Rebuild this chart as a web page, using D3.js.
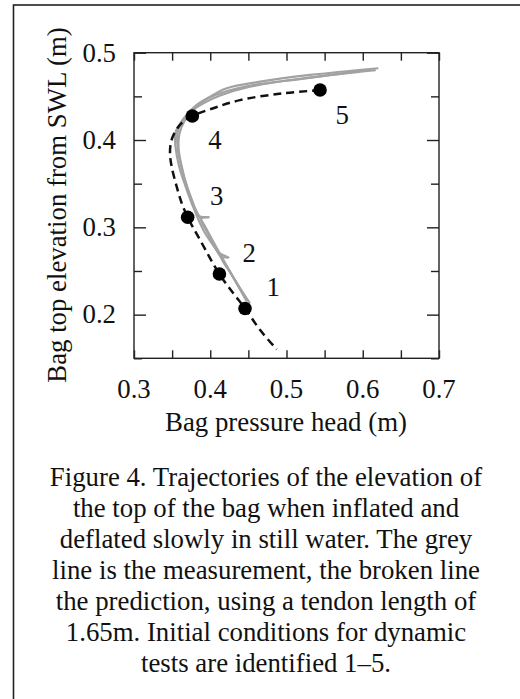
<!DOCTYPE html>
<html>
<head>
<meta charset="utf-8">
<script src="https://cdn.jsdelivr.net/npm/d3@7"></script>
<style>
  body { margin: 0; background: #fff; }
  svg { display: block; }
  text { font-family: "Liberation Serif", "Times New Roman", serif; fill: #111; }
</style>
</head>
<body>
<svg id="chart" width="520" height="699"></svg>
<script>
// tick values
const xTicks = [0.3, 0.4, 0.5, 0.6, 0.7]
const xMinor = [0.35, 0.45, 0.55, 0.65]
const yTicks = [0.2, 0.3, 0.4, 0.5]
const yMinor = [0.15, 0.25, 0.35, 0.45]

// prediction (broken line)  [pressure head, elevation]
const predicted = [
  [0.544, 0.457], [0.495, 0.4535], [0.439, 0.4457], [0.404, 0.4364], [0.3765, 0.4275],
  [0.3603, 0.4174], [0.3494, 0.4004], [0.3472, 0.3848], [0.3494, 0.3695], [0.356, 0.3466],
  [0.3626, 0.3276], [0.3704, 0.3115], [0.3866, 0.2856], [0.4119, 0.2466], [0.4302, 0.2245],
  [0.4456, 0.2073], [0.4652, 0.1826], [0.4871, 0.1603]
]

// measured traces (grey)
const measuredA = [
  [0.4521, 0.213], [0.439, 0.2305], [0.4216, 0.2549], [0.4062, 0.2763], [0.3909, 0.297],
  [0.3757, 0.3276], [0.3647, 0.3542], [0.3581, 0.3737], [0.3538, 0.400], [0.3551, 0.4104],
  [0.3581, 0.4153], [0.3669, 0.4267], [0.3822, 0.4402], [0.3997, 0.4497], [0.4216, 0.4593],
  [0.4652, 0.4668], [0.5308, 0.4745], [0.6204, 0.4822]
]
const measuredB = [
  [0.617, 0.480], [0.53, 0.4715], [0.452, 0.461], [0.413, 0.451], [0.391, 0.442],
  [0.374, 0.432], [0.362, 0.420], [0.357, 0.408], [0.357, 0.394], [0.360, 0.377],
  [0.366, 0.356], [0.376, 0.331], [0.385, 0.313], [0.398, 0.3115], [0.388, 0.310],
  [0.397, 0.293], [0.411, 0.271], [0.424, 0.2655], [0.415, 0.265], [0.428, 0.246],
  [0.447, 0.218]
]
const measuredC = [
  [0.60, 0.4795], [0.52, 0.470], [0.46, 0.4635], [0.42, 0.4555], [0.395, 0.4465],
  [0.377, 0.4345], [0.366, 0.4215], [0.3595, 0.407], [0.3585, 0.390], [0.362, 0.372],
  [0.370, 0.345], [0.380, 0.322], [0.395, 0.298], [0.410, 0.274], [0.430, 0.243],
  [0.448, 0.215]
]

// initial conditions 1-5
const testIds = ["1", "2", "3", "4", "5"]
const testX = [0.4456, 0.412, 0.3704, 0.3765, 0.544]
const testY = [0.207, 0.2466, 0.3115, 0.4275, 0.4573]
const labelX = [0.4827, 0.4512, 0.4085, 0.4062, 0.5732]
const labelY = [0.232, 0.2714, 0.3363, 0.400, 0.4295]

const captionLines = [
  "Figure 4. Trajectories of the elevation of",
  "the top of the bag when inflated and",
  "deflated slowly in still water. The grey",
  "line is the measurement, the broken line",
  "the prediction, using a tendon length of",
  "1.65m. Initial conditions for dynamic",
  "tests are identified 1\u20135."
]

const svg = d3.select("#chart")
const fs = 26.8

// outer box (runs off the right and bottom of the page)
svg.append("rect")
  .attr("x", 13.5).attr("y", 5)
  .attr("width", 540).attr("height", 720)
  .attr("fill", "none").attr("stroke", "#222").attr("stroke-width", 1.6)

const plot = {left: 134, right: 439, top: 52.7, bottom: 358.3}

const x = d3.scaleLinear().domain([0.3, 0.7]).range([plot.left, plot.right])
const y = d3.scaleLinear().domain([0.15, 0.5]).range([plot.bottom, plot.top])

const g = svg.append("g")

// plot frame
g.append("rect")
  .attr("x", plot.left).attr("y", plot.top)
  .attr("width", plot.right - plot.left).attr("height", plot.bottom - plot.top)
  .attr("fill", "none").attr("stroke", "#222").attr("stroke-width", 1.4)

// axes: ticks pointing inward on all four sides
const bottomAxis = d3.axisBottom(x).tickValues(xTicks.concat(xMinor)).tickSize(-8).tickFormat("")
const topAxis = d3.axisTop(x).tickValues(xTicks.concat(xMinor)).tickSize(-8).tickFormat("")
const leftMajor = d3.axisLeft(y).tickValues(yTicks).tickSize(-12).tickFormat("")
const leftMinor = d3.axisLeft(y).tickValues(yMinor).tickSize(-8).tickFormat("")
const rightMajor = d3.axisRight(y).tickValues(yTicks).tickSize(-12).tickFormat("")
const rightMinor = d3.axisRight(y).tickValues(yMinor).tickSize(-8).tickFormat("")

function styleAxis(sel) {
  sel.select(".domain").remove()
  sel.selectAll("line").attr("stroke", "#222").attr("stroke-width", 1.4)
}
g.append("g").attr("transform", `translate(0,${plot.bottom})`).call(bottomAxis).call(styleAxis)
g.append("g").attr("transform", `translate(0,${plot.top})`).call(topAxis).call(styleAxis)
g.append("g").attr("transform", `translate(${plot.left},0)`).call(leftMajor).call(styleAxis)
g.append("g").attr("transform", `translate(${plot.left},0)`).call(leftMinor).call(styleAxis)
g.append("g").attr("transform", `translate(${plot.right},0)`).call(rightMajor).call(styleAxis)
g.append("g").attr("transform", `translate(${plot.right},0)`).call(rightMinor).call(styleAxis)

// tick labels
g.selectAll(".xl").data(xTicks).join("text")
  .attr("x", d => x(d)).attr("y", 398)
  .attr("text-anchor", "middle").attr("font-size", fs)
  .text(d3.format(".1f"))
g.selectAll(".yl").data(yTicks).join("text")
  .attr("x", 116).attr("y", d => y(d)).attr("dy", "0.33em")
  .attr("text-anchor", "end").attr("font-size", fs)
  .text(d3.format(".1f"))

// axis titles
g.append("text")
  .attr("x", 286).attr("y", 431)
  .attr("text-anchor", "middle").attr("font-size", fs)
  .text("Bag pressure head (m)")
g.append("text")
  .attr("transform", "translate(66,205) rotate(-90)")
  .attr("text-anchor", "middle").attr("font-size", fs)
  .text("Bag top elevation from SWL (m)")

const smooth = d3.line().x(d => x(d[0])).y(d => y(d[1])).curve(d3.curveCatmullRom)

// measurement
g.selectAll(".meas").data([measuredC, measuredB, measuredA]).join("path")
  .attr("d", smooth)
  .attr("fill", "none")
  .attr("stroke", "#a2a2a2")
  .attr("stroke-width", 2.2)
  .attr("stroke-linejoin", "round")

// prediction
g.append("path")
  .attr("d", smooth(predicted))
  .attr("fill", "none")
  .attr("stroke", "#111")
  .attr("stroke-width", 2.5)
  .attr("stroke-dasharray", "8,5")

// initial condition markers
g.selectAll(".dot").data(testIds).join("circle")
  .attr("cx", (d, i) => x(testX[i]))
  .attr("cy", (d, i) => y(testY[i]))
  .attr("r", 6.8)
  .attr("fill", "#000")

g.selectAll(".num").data(testIds).join("text")
  .attr("x", (d, i) => x(labelX[i]))
  .attr("y", (d, i) => y(labelY[i]))
  .attr("dy", "0.35em")
  .attr("text-anchor", "middle").attr("font-size", fs)
  .text(d => d)

// caption
svg.selectAll(".cap").data(captionLines).join("text")
  .attr("x", 266)
  .attr("y", (d, i) => 485.5 + i * 31)
  .attr("text-anchor", "middle").attr("font-size", fs)
  .text(d => d)
</script>
</body>
</html>
